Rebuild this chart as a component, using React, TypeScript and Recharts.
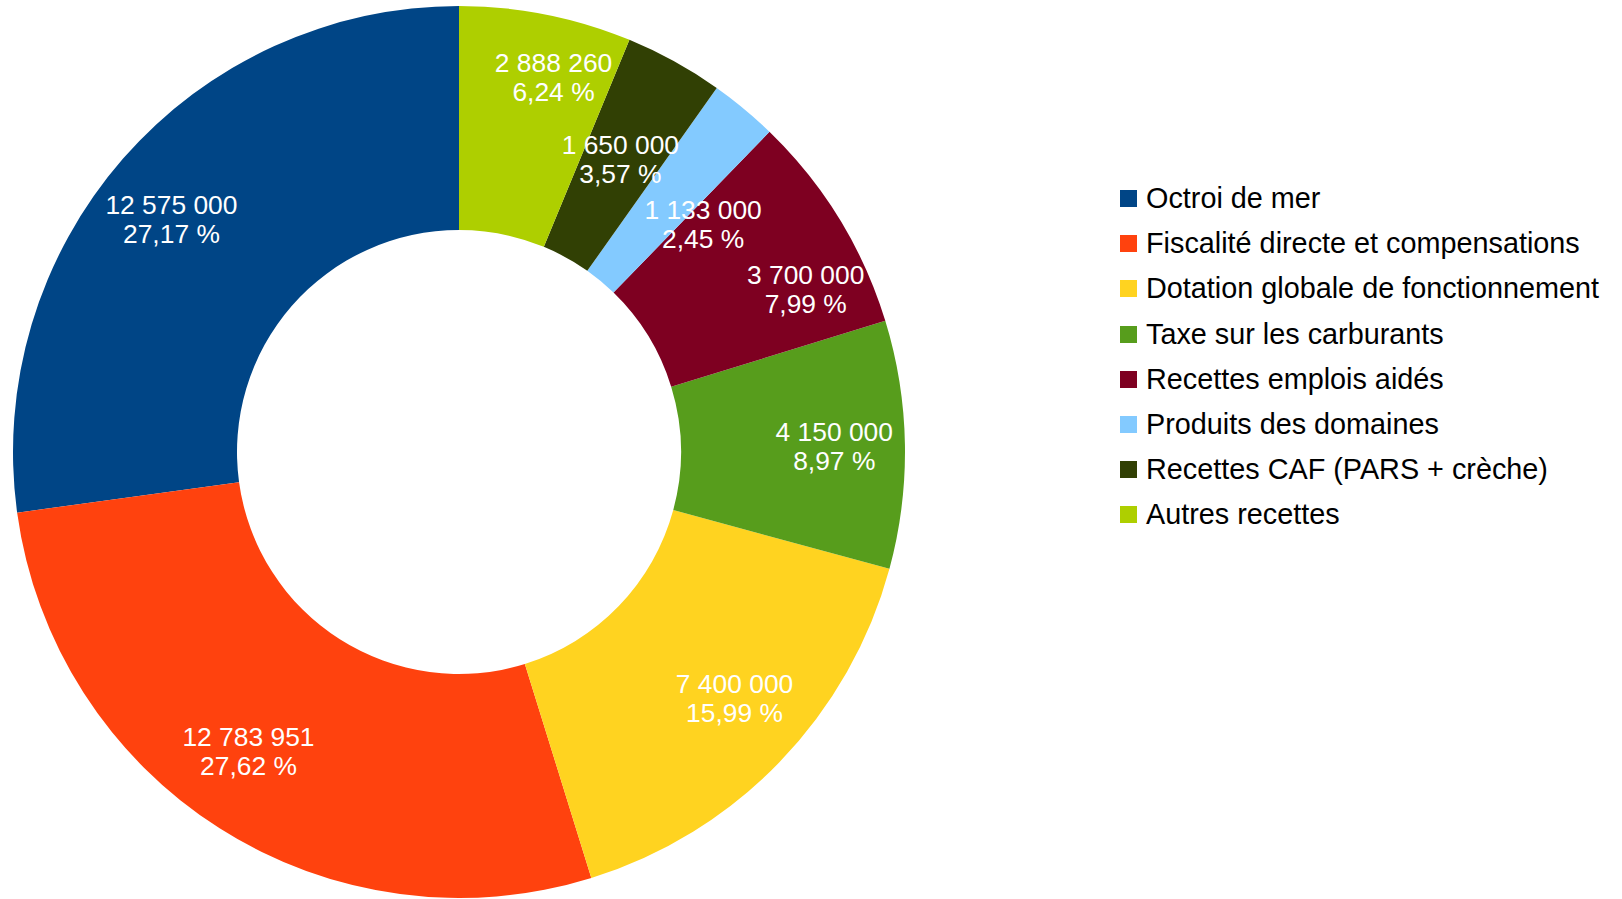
import React from 'react';
import { PieChart, Pie, Cell } from 'recharts';

const categories = [
  'Octroi de mer',
  'Fiscalité directe et compensations',
  'Dotation globale de fonctionnement',
  'Taxe sur les carburants',
  'Recettes emplois aidés',
  'Produits des domaines',
  'Recettes CAF (PARS + crèche)',
  'Autres recettes',
];
const amounts = [12575000, 12783951, 7400000, 4150000, 3700000, 1133000, 1650000, 2888260];
const colors = ['#004586', '#ff420e', '#ffd320', '#579d1c', '#7e0021', '#83caff', '#314004', '#aecf00'];

const data = categories.map((name, i) => ({ name, value: amounts[i] }));

const FONT = '"Liberation Sans", Arial, sans-serif';
const LABEL_FS = 26.4;
const LINE_H = 29;

const CX = 459;
const CY = 452;
const R_IN = 222;
const R_OUT = 446;
const START = 90;

const fmtNum = (v: number) => String(v).replace(/\B(?=(\d{3})+(?!\d))/g, ' ');
const fmtPct = (p: number) => (p * 100).toFixed(2).replace('.', ',') + ' %';

const textWidth = (s: string) => {
  let w = 0;
  for (const ch of s) {
    if (ch === ' ' || ch === ',') w += 0.278;
    else if (ch === '%') w += 0.889;
    else w += 0.556;
  }
  return w * LABEL_FS;
};

const total = amounts.reduce((a, b) => a + b, 0);

// label placement rule: larger slices pushed outward (narrow ones further, where the ring is wider),
// very small slices at mid-ring; colliding labels are rotated clockwise (processed clockwise from the top)
const labelPoint = (angle: number, pct: number) => {
  const RAD = Math.PI / 180;
  const small = pct < 0.05;
  const r = small ? (R_IN + R_OUT) / 2 : 355 + Math.max(0, 0.09 - pct) * 1000;
  const c = Math.cos(angle * RAD);
  const s = Math.sin(angle * RAD);
  const push = small ? 0 : Math.sign(c) * 20;
  return { x: CX + r * c + push, y: CY - r * s };
};

const labelDeltas: number[] = (() => {
  const mids: number[] = [];
  let acc = START;
  amounts.forEach((v) => {
    const span = (v / total) * 360;
    mids.push(acc + span / 2);
    acc += span;
  });
  const deltas = amounts.map(() => 0);
  const placed: { x: number; y: number; w: number; h: number }[] = [];
  for (let i = amounts.length - 1; i >= 0; i--) {
    const pct = amounts[i] / total;
    const w = Math.max(textWidth(fmtNum(amounts[i])), textWidth(fmtPct(pct)));
    const h = LINE_H * 2 + 6;
    let d = 0;
    for (let k = 0; k < 160; k++) {
      const p = labelPoint(mids[i] + d, pct);
      const hit = placed.some((b) => Math.abs(b.x - p.x) < (b.w + w) / 2 && Math.abs(b.y - p.y) < (b.h + h) / 2);
      if (!hit) break;
      d -= 0.25;
    }
    deltas[i] = d;
    const p = labelPoint(mids[i] + d, pct);
    placed.push({ x: p.x, y: p.y, w, h });
  }
  return deltas;
})();

const renderLabel = (props: any) => {
  const { midAngle, percent, value, index } = props;
  const p = labelPoint(midAngle + (labelDeltas[index] || 0), percent);
  const off = 0.355 * LABEL_FS;
  return (
    <text x={p.x} y={p.y} fill="#ffffff" textAnchor="middle" fontFamily={FONT} fontSize={LABEL_FS}>
      <tspan x={p.x} y={p.y - LINE_H / 2 + off}>{fmtNum(value)}</tspan>
      <tspan x={p.x} y={p.y + LINE_H / 2 + off}>{fmtPct(percent)}</tspan>
    </text>
  );
};

export default function App() {
  return (
    <div style={{ width: 1622, height: 899, background: '#fff', position: 'relative', overflow: 'hidden' }}>
      <style>{`body{margin:0;overflow:hidden;}`}</style>
      <PieChart width={1622} height={899} margin={{ top: 0, right: 0, bottom: 0, left: 0 }}>
        <Pie
          data={data}
          dataKey="value"
          nameKey="name"
          cx={CX}
          cy={CY}
          innerRadius={R_IN}
          outerRadius={R_OUT}
          startAngle={START}
          endAngle={START + 360}
          stroke="none"
          labelLine={false}
          label={renderLabel}
          isAnimationActive={false}
        >
          {data.map((d, i) => (
            <Cell key={d.name} fill={colors[i]} />
          ))}
        </Pie>
      </PieChart>
      <div
        style={{
          position: 'absolute',
          left: 1120,
          top: 176,
          fontFamily: FONT,
          fontSize: 28.8,
          color: '#000',
        }}
      >
        {categories.map((c, i) => (
          <div key={c} style={{ display: 'flex', alignItems: 'center', height: 45.2, whiteSpace: 'nowrap' }}>
            <div style={{ width: 17, height: 17, background: colors[i], marginRight: 9, flexShrink: 0 }} />
            <span style={{ lineHeight: '33px' }}>{c}</span>
          </div>
        ))}
      </div>
    </div>
  );
}
